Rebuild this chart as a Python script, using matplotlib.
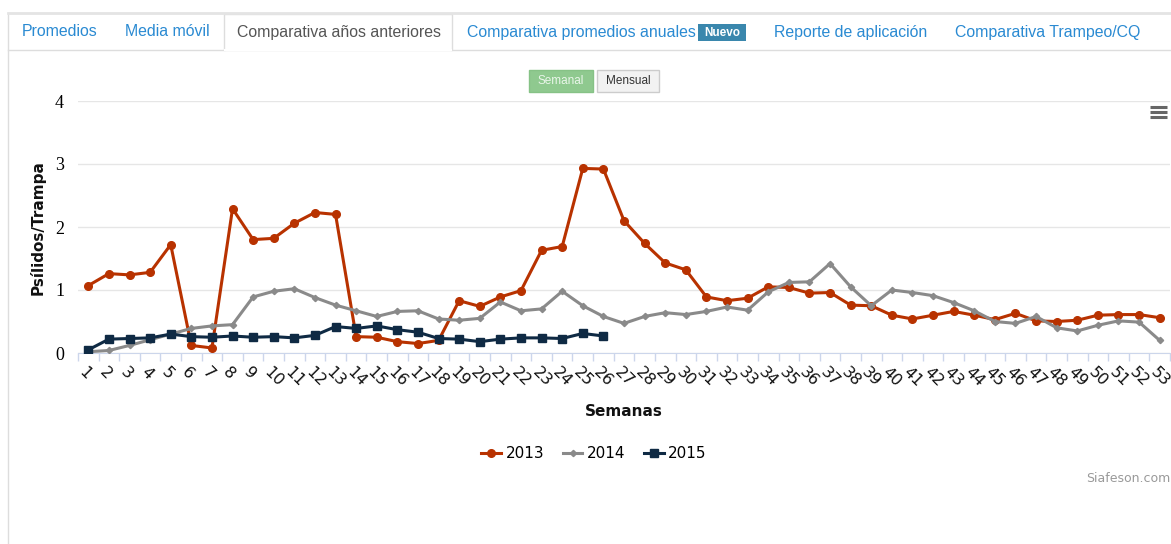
import numpy as np
import matplotlib
matplotlib.use('Agg')
import matplotlib.pyplot as plt
from matplotlib.patches import Rectangle
from matplotlib.lines import Line2D
from matplotlib.transforms import ScaledTranslation

W, H = 1171, 544

weeks = list(range(1, 54))

y2013 = [1.07, 1.26, 1.24, 1.28, 1.72, 0.12, 0.08, 2.29, 1.80, 1.82,
         2.06, 2.23, 2.20, 0.26, 0.25, 0.18, 0.15, 0.20, 0.83, 0.74,
         0.89, 0.99, 1.63, 1.69, 2.93, 2.92, 2.10, 1.74, 1.43, 1.32,
         0.89, 0.83, 0.87, 1.05, 1.04, 0.95, 0.96, 0.76, 0.75, 0.60,
         0.54, 0.60, 0.66, 0.60, 0.53, 0.63, 0.51, 0.50, 0.52, 0.60,
         0.61, 0.61, 0.56]

y2014 = [0.02, 0.04, 0.12, 0.21, 0.30, 0.39, 0.43, 0.45, 0.89, 0.98,
         1.02, 0.88, 0.76, 0.67, 0.58, 0.66, 0.67, 0.54, 0.52, 0.55,
         0.81, 0.67, 0.70, 0.98, 0.75, 0.58, 0.47, 0.58, 0.64, 0.61,
         0.66, 0.73, 0.68, 0.97, 1.12, 1.13, 1.42, 1.05, 0.75, 1.00,
         0.96, 0.91, 0.80, 0.67, 0.50, 0.47, 0.58, 0.40, 0.35, 0.44,
         0.51, 0.49, 0.20]

y2015 = [0.05, 0.22, 0.23, 0.24, 0.30, 0.26, 0.25, 0.27, 0.25, 0.26,
         0.24, 0.28, 0.42, 0.39, 0.43, 0.37, 0.33, 0.23, 0.22, 0.18,
         0.22, 0.24, 0.24, 0.23, 0.31, 0.27]

series = [('2013', y2013, '#b83200', 'o', 5.5),
          ('2014', y2014, '#8a8a8a', 'D', 3.2),
          ('2015', y2015, '#0f2a44', 's', 5.2)]

tabs = [('Promedios', 22), ('Media móvil', 125),
        ('Comparativa años anteriores', 237),
        ('Comparativa promedios anuales', 467),
        ('Reporte de aplicación', 774), ('Comparativa Trampeo/CQ', 955)]


def fx(x):
    return x / W


def fy(y):
    return 1 - y / H


fig = plt.figure(figsize=(W / 100, H / 100), dpi=100)
fig.patch.set_facecolor('white')

# page frame and tab bar
fig.add_artist(Line2D([fx(8), fx(8)], [fy(13), fy(544)], color='#dddddd', lw=1))
fig.add_artist(Line2D([fx(8), fx(1171)], [fy(13), fy(13)], color='#e4e4e4', lw=2))
fig.add_artist(Line2D([fx(8), fx(224)], [fy(50), fy(50)], color='#dddddd', lw=1))
fig.add_artist(Line2D([fx(452), fx(1171)], [fy(50), fy(50)], color='#dddddd', lw=1))
fig.add_artist(Rectangle((fx(224), fy(50)), fx(452) - fx(224), fy(14) - fy(50),
                         facecolor='white', edgecolor='#dddddd', lw=1))
fig.add_artist(Line2D([fx(225), fx(451)], [fy(50), fy(50)], color='white', lw=1.5))

for name, x0 in tabs:
    col = '#555555' if name.startswith('Comparativa años') else '#2a8ad2'
    fig.text(fx(x0), fy(32), name, color=col, fontsize=11.4, va='center',
             ha='left', family='Liberation Sans')

fig.add_artist(Rectangle((fx(698), fy(41)), fx(746) - fx(698), fy(24) - fy(41),
                         facecolor='#3a87ad', edgecolor='none'))
fig.text(fx(722), fy(32.5), 'Nuevo', color='white', fontsize=8.5,
         fontweight='bold', ha='center', va='center', family='Liberation Sans')

# Semanal / Mensual buttons
fig.add_artist(Rectangle((fx(529), fy(92)), fx(593) - fx(529), fy(70) - fy(92),
                         facecolor='#8fc98f', edgecolor='#86c286', lw=1))
fig.text(fx(561), fy(81), 'Semanal', color='#eaf6ea', fontsize=8.5,
         ha='center', va='center', family='Liberation Sans')
fig.add_artist(Rectangle((fx(597), fy(92)), fx(659) - fx(597), fy(70) - fy(92),
                         facecolor='#f2f2f2', edgecolor='#cccccc', lw=1))
fig.text(fx(628), fy(81), 'Mensual', color='#333333', fontsize=8.5,
         ha='center', va='center', family='Liberation Sans')

# menu icon
for yy in (107, 112, 117):
    fig.add_artist(Line2D([fx(1150), fx(1167)], [fy(yy), fy(yy)],
                          color='#666666', lw=2.2, solid_capstyle='butt'))

# chart area
ax = fig.add_axes([fx(78), fy(353), fx(1170) - fx(78), fy(101) - fy(353)])
for name, vals, col, mk, ms in series:
    ax.plot(weeks[:len(vals)], vals, color=col, lw=2.2, marker=mk,
            markersize=ms, label=name, zorder=3)

ax.set_xlim(0.5, 53.5)
ax.set_ylim(0, 4)
ax.set_yticks([0, 1, 2, 3, 4])
ax.set_yticklabels(['0', '1', '2', '3', '4'], family='Liberation Serif',
                   fontsize=13)
ax.grid(axis='y', color='#e6e6e6', lw=1)
ax.set_axisbelow(True)
for s in ('top', 'right', 'left'):
    ax.spines[s].set_visible(False)
ax.spines['bottom'].set_color('#ccd6eb')
ax.tick_params(axis='y', length=0, pad=10)

ax.set_xticks(weeks)
ax.set_xticks(np.arange(0.5, 54, 1), minor=True)
ax.tick_params(axis='x', which='major', length=0, pad=12)
ax.tick_params(axis='x', which='minor', length=6, color='#ccd6eb', width=1)
ax.set_xticklabels([str(w) for w in weeks], rotation=-45, ha='left',
                   va='center', rotation_mode='anchor', fontsize=11.5,
                   color='#111111')
off = ScaledTranslation(-0.07, 0, fig.dpi_scale_trans)
for lab in ax.get_xticklabels():
    lab.set_transform(lab.get_transform() + off)

fig.text(fx(38), fy(228), 'Psílidos/Trampa', rotation=90, fontsize=11,
         fontweight='bold', ha='center', va='center', color='#111111')
fig.text(fx(624), fy(411), 'Semanas', fontsize=11, fontweight='bold',
         ha='center', va='center', color='#111111')

leg = ax.legend(loc='center', bbox_to_anchor=(fx(594), fy(454)),
                bbox_transform=fig.transFigure, ncol=3, frameon=False,
                fontsize=11, handlelength=1.3, handletextpad=0.3,
                columnspacing=1.2)

fig.text(fx(1170), fy(478), 'Siafeson.com', color='#999999', fontsize=9,
         ha='right', va='center')

fig.savefig('out.png', dpi=100)
